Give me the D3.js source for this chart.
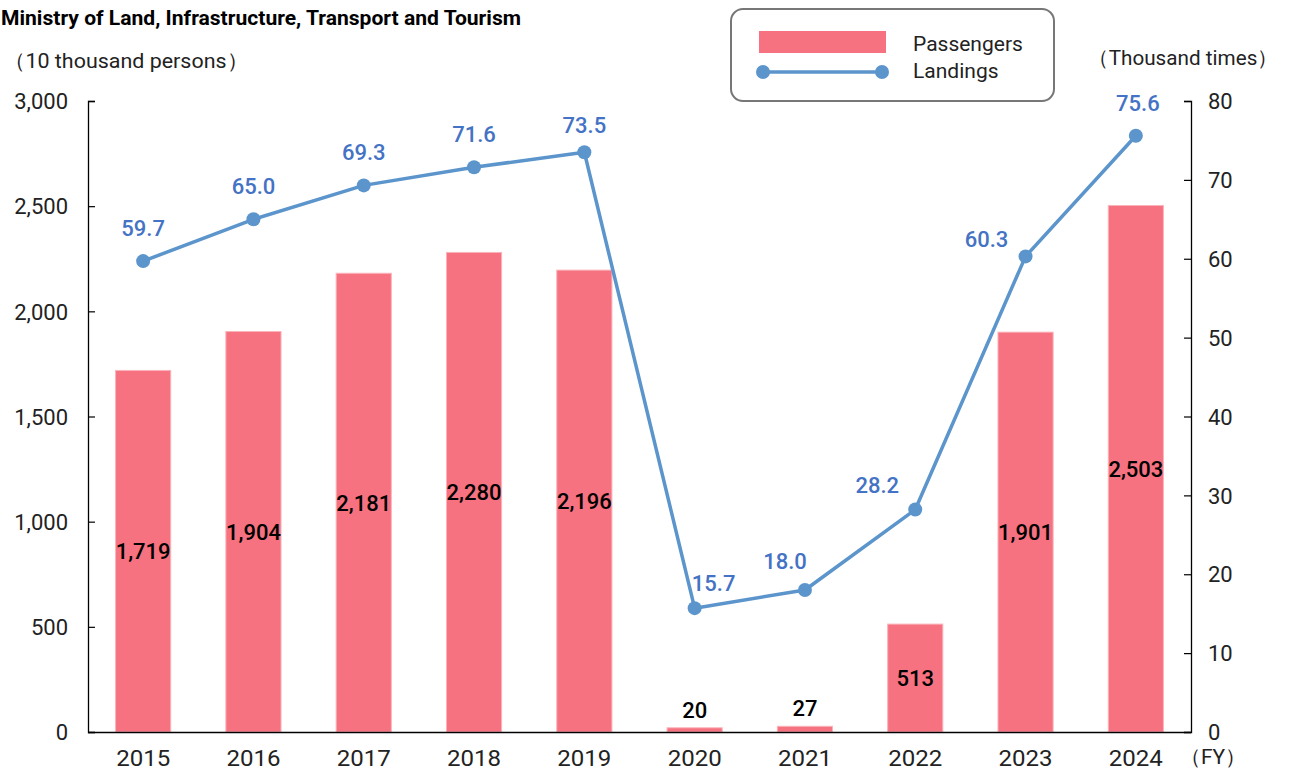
<!DOCTYPE html>
<html>
<head>
<meta charset="utf-8">
<script src="https://cdn.jsdelivr.net/npm/d3@7"></script>
<style>
  body { margin: 0; background: #fff; }
  svg { display: block; }
  text { font-family: Roboto, "Noto Sans", sans-serif; }
</style>
</head>
<body>
<svg id="chart" width="1290" height="771"></svg>
<script>
// data
const years = ['2015', '2016', '2017', '2018', '2019', '2020', '2021', '2022', '2023', '2024'];
const passengers = [1719, 1904, 2181, 2280, 2196, 20, 27, 513, 1901, 2503];
const landings = [59.7, 65.0, 69.3, 71.6, 73.5, 15.7, 18.0, 28.2, 60.3, 75.6];
const leftTicks = [0, 500, 1000, 1500, 2000, 2500, 3000];
const rightTicks = [0, 10, 20, 30, 40, 50, 60, 70, 80];

const barColor = '#f67280',
  lineColor = '#5b95cc',
  lineLabelColor = '#4472c4';

const svg = d3.select('#chart');
const plotLeft = 88, plotRight = 1191, plotTop = 101, plotBottom = 732;

const x = d3.scaleBand().domain(years).range([plotLeft, plotRight]).paddingInner(0.5).paddingOuter(0.25);
const yL = d3.scaleLinear().domain([0, 3000]).range([plotBottom, plotTop]);
const yR = d3.scaleLinear().domain([0, 80]).range([plotBottom, plotTop]);
const cx = d => x(d) + x.bandwidth() / 2;

// title, hard against the left edge like the source image
svg.append('text')
  .attr('x', 1).attr('y', 25)
  .attr('font-size', 20).attr('font-weight', 'bold')
  .attr('textLength', 520).attr('lengthAdjust', 'spacingAndGlyphs')
  .text('Ministry of Land, Infrastructure, Transport and Tourism');

svg.append('text')
  .attr('x', 4).attr('y', 68).attr('font-size', 21).attr('fill', '#222')
  .attr('textLength', 244).attr('lengthAdjust', 'spacingAndGlyphs')
  .text('（10 thousand persons）');
svg.append('text')
  .attr('x', 1088).attr('y', 65).attr('font-size', 21).attr('fill', '#222')
  .attr('textLength', 190).attr('lengthAdjust', 'spacingAndGlyphs')
  .text('（Thousand times）');

// bars
svg.append('g').selectAll('rect')
  .data(years)
  .join('rect')
  .attr('x', d => x(d))
  .attr('width', x.bandwidth())
  .attr('y', (d, i) => yL(passengers[i]))
  .attr('height', (d, i) => plotBottom - yL(passengers[i]))
  .attr('fill', barColor)
  .attr('stroke', '#fbb3ba').attr('stroke-width', 1);

// bar labels: centred in the bar, above it when the bar is tiny
svg.append('g').selectAll('text')
  .data(years)
  .join('text')
  .attr('x', d => cx(d))
  .attr('y', (d, i) => {
    const v = passengers[i];
    return v < 100 ? yL(v) - 10 : (yL(v) + plotBottom) / 2 + 8;
  })
  .attr('text-anchor', 'middle')
  .attr('font-size', 22).attr('font-weight', 500).attr('fill', '#000')
  .text((d, i) => d3.format(',')(passengers[i]));

// axes
const axisL = d3.axisLeft(yL).tickValues(leftTicks).tickSize(-7).tickFormat(d3.format(','));
const axisR = d3.axisRight(yR).tickValues(rightTicks).tickSize(-7);
const axisX = d3.axisBottom(x).tickSize(0).tickPadding(18);

function styleAxis(g) {
  g.select('.domain').attr('stroke', '#000').attr('stroke-width', 1.3);
  g.selectAll('.tick line').attr('stroke', '#000').attr('stroke-width', 1.2);
  g.selectAll('.tick text').attr('font-size', 22).attr('fill', '#222')
    .attr('font-family', 'Roboto, "Noto Sans", sans-serif');
}

svg.append('g').attr('transform', `translate(${plotLeft},0)`).call(axisL).call(styleAxis)
  .call(g => g.selectAll('.tick text').attr('x', -20).attr('dy', '0.35em'));
svg.append('g').attr('transform', `translate(${plotRight},0)`).call(axisR).call(styleAxis)
  .call(g => g.selectAll('.tick text').attr('x', 17).attr('dy', '0.35em'));
svg.append('g').attr('transform', `translate(0,${plotBottom})`).call(axisX).call(styleAxis)
  .call(g => g.selectAll('.tick text').attr('textLength', 54).attr('lengthAdjust', 'spacingAndGlyphs'))
  .call(g => g.select('.domain').attr('d', `M${plotLeft},0.5H${plotRight}`));

svg.append('text')
  .attr('x', 1180).attr('y', 764).attr('font-size', 21).attr('fill', '#222')
  .text('（FY）');

// line
const line = d3.line().x(d => cx(d)).y((d, i) => yR(landings[i]));
svg.append('path')
  .datum(years)
  .attr('d', line)
  .attr('fill', 'none')
  .attr('stroke', lineColor)
  .attr('stroke-width', 3.5)
  .attr('stroke-linejoin', 'round');

svg.append('g').selectAll('circle')
  .data(years)
  .join('circle')
  .attr('cx', d => cx(d))
  .attr('cy', (d, i) => yR(landings[i]))
  .attr('r', 7)
  .attr('fill', lineColor);

// line labels, nudged off the line where it is steep
const labelShift = {
  '2019': [0, -19], '2020': [19, -17], '2021': [-20, -21],
  '2022': [-38, -17], '2023': [-39, -9], '2024': [2, -25],
};
svg.append('g').selectAll('text')
  .data(years)
  .join('text')
  .attr('x', d => cx(d) + (labelShift[d] ? labelShift[d][0] : 0))
  .attr('y', (d, i) => yR(landings[i]) + (labelShift[d] ? labelShift[d][1] : -25))
  .attr('text-anchor', 'middle')
  .attr('font-size', 22).attr('font-weight', 500)
  .attr('fill', lineLabelColor)
  .text((d, i) => landings[i].toFixed(1));

// legend
const lg = svg.append('g');
lg.append('rect')
  .attr('x', 731).attr('y', 9).attr('width', 323).attr('height', 92)
  .attr('rx', 12).attr('fill', '#fff').attr('stroke', '#777').attr('stroke-width', 2);
lg.append('rect')
  .attr('x', 759).attr('y', 31).attr('width', 127).attr('height', 22)
  .attr('fill', barColor);
lg.append('line')
  .attr('x1', 763).attr('x2', 882).attr('y1', 72).attr('y2', 72)
  .attr('stroke', lineColor).attr('stroke-width', 3.5);
lg.selectAll('circle').data([763, 882]).join('circle')
  .attr('cx', d => d).attr('cy', 72).attr('r', 7).attr('fill', lineColor);
lg.selectAll('text').data(['Passengers', 'Landings']).join('text')
  .attr('x', 913).attr('y', (d, i) => 51 + i * 27)
  .attr('font-size', 21).attr('fill', '#222')
  .text(d => d);
</script>
</body>
</html>
